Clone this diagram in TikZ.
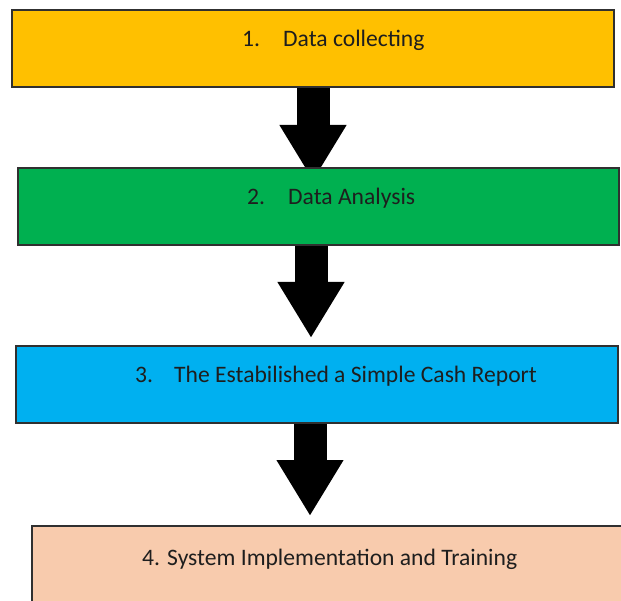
\documentclass[tikz,border=0pt]{standalone}
\usepackage{fontspec}
\setmainfont{Carlito}
\usetikzlibrary{arrows.meta,backgrounds}
\definecolor{cYellow}{HTML}{FFC000}
\definecolor{cGreen}{HTML}{00B050}
\definecolor{cBlue}{HTML}{00B0F0}
\definecolor{cPeach}{HTML}{F8CBAD}
\definecolor{cText}{HTML}{1E1E1E}
\definecolor{cBorder}{HTML}{303030}
\tikzset{
  stagebox/.style={draw=cBorder, line width=1.6pt, rectangle, anchor=north west,
    inner sep=0pt, minimum height=77pt},
  stagetext/.style={anchor=base west, inner sep=0pt, text=cText,
    font=\fontsize{23.6}{26}\selectfont},
  bigarrow/.style={line width=33pt, draw=black,
    -{Triangle[width=63pt,length=56pt]}}
}
\newcommand{\stagenum}[2]{\makebox[#1][l]{#2}}
\begin{document}
\begin{tikzpicture}[x=1pt,y=-1pt]
\useasboundingbox (0,0) rectangle (621,601);
\clip (0,0) rectangle (621,601);
% boxes
\node[stagebox, fill=cYellow, minimum width=602pt] (b1) at (11,9) {};
\node[stagebox, fill=cGreen,  minimum width=601pt] (b2) at (17,167) {};
\node[stagebox, fill=cBlue,   minimum width=602pt] (b3) at (15,345) {};
\node[stagebox, fill=cPeach,  minimum width=640pt, minimum height=90pt] (b4) at (31,525) {};
% texts
\node[stagetext] (t1) at (242,47)  {\stagenum{41pt}{1.}Data collecting};
\node[stagetext] (t2) at (247,205) {\stagenum{41pt}{2.}Data Analysis};
\node[stagetext] (t3) at (135,383) {\stagenum{39pt}{3.}The Estabilished a Simple Cash Report};
\node[stagetext] (t4) at (142,565) {4. System Implementation and Training};
% arrows
\coordinate (c1) at (313,0);
\coordinate (c2) at (311,0);
\coordinate (c3) at (310,0);
\begin{pgfonlayer}{background}
\fill[white] (0,0) rectangle (621,601);
\draw[bigarrow, shorten >=-14pt] (b1.south -| c1) -- (b2.north -| c1);
\draw[bigarrow, shorten >=7pt] (b2.south -| c2) -- (b3.north -| c2);
\draw[bigarrow, shorten >=9pt] (b3.south -| c3) -- (b4.north -| c3);
\end{pgfonlayer}
\end{tikzpicture}
\end{document}
